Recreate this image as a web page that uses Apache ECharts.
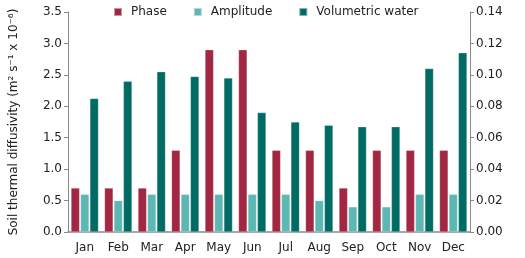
<!DOCTYPE html>
<html><head><meta charset="utf-8">
<script src="https://cdn.jsdelivr.net/npm/echarts@6/dist/echarts.min.js"></script>
<style>html,body{margin:0;padding:0;background:#fff}#c{width:525px;height:258px}</style>
</head><body><div id="c"></div>
<script>
const months = ['Jan','Feb','Mar','Apr','May','Jun','Jul','Aug','Sep','Oct','Nov','Dec'];
const phase = [0.7,0.7,0.7,1.3,2.9,2.9,1.3,1.3,0.7,1.3,1.3,1.3];
const amplitude = [0.6,0.5,0.6,0.6,0.6,0.6,0.6,0.5,0.4,0.4,0.6,0.6];
const volumetric = [0.085,0.096,0.102,0.099,0.098,0.076,0.070,0.068,0.067,0.067,0.104,0.114];
const leftTicks = [0,0.5,1,1.5,2,2.5,3,3.5];
const rightTicks = [0,0.02,0.04,0.06,0.08,0.10,0.12,0.14];

const font = 'DejaVu Sans';
const chart = echarts.init(document.getElementById('c'));
chart.setOption({
  animation:false,
  textStyle:{fontFamily:font},
  legend:{top:6,left:113,padding:0,itemWidth:8,itemHeight:8,itemGap:26,icon:'rect',
    textStyle:{fontFamily:font,fontSize:12,color:'#222',padding:[0,0,0,4]},
    data:['Phase','Amplitude','Volumetric water']},
  grid:{left:62,right:55,top:12,bottom:26},
  xAxis:{type:'category',data:months,
    axisLine:{lineStyle:{color:'#888',width:1.5}},axisTick:{show:false},
    axisLabel:{fontFamily:font,fontSize:12,color:'#222',margin:10}},
  yAxis:[
    {type:'value',min:0,max:3.5,interval:0.5,
     name:'Soil thermal diffusivity (m\u00b2 s\u207b\u00b9 x 10\u207b\u2076)',
     nameLocation:'middle',nameGap:48,nameTextStyle:{fontFamily:font,fontSize:12,color:'#222'},
     axisLine:{show:true,lineStyle:{color:'#888'}},axisTick:{show:true,length:4,lineStyle:{color:'#888'}},
     splitLine:{show:false},
     axisLabel:{fontFamily:font,fontSize:12,color:'#222',margin:6,formatter:v=>v.toFixed(1)}},
    {type:'value',min:0,max:0.14,interval:0.02,position:'right',
     axisLine:{show:true,lineStyle:{color:'#888'}},axisTick:{show:true,length:4,lineStyle:{color:'#888'}},
     splitLine:{show:false},
     axisLabel:{fontFamily:font,fontSize:12,color:'#222',margin:6,formatter:v=>v.toFixed(2)}}
  ],
  series:[
    {name:'Phase',type:'bar',yAxisIndex:0,data:phase,barGap:'10%',barCategoryGap:'18%',
     itemStyle:{color:'#A22742',borderColor:'rgba(255,255,255,0.5)',borderWidth:0.5}},
    {name:'Amplitude',type:'bar',yAxisIndex:0,data:amplitude,
     itemStyle:{color:'#5DB8B4',borderColor:'rgba(255,255,255,0.5)',borderWidth:0.5}},
    {name:'Volumetric water',type:'bar',yAxisIndex:1,data:volumetric,
     itemStyle:{color:'#006A64',borderColor:'rgba(255,255,255,0.5)',borderWidth:0.5}}
  ]
});
</script></body></html>
